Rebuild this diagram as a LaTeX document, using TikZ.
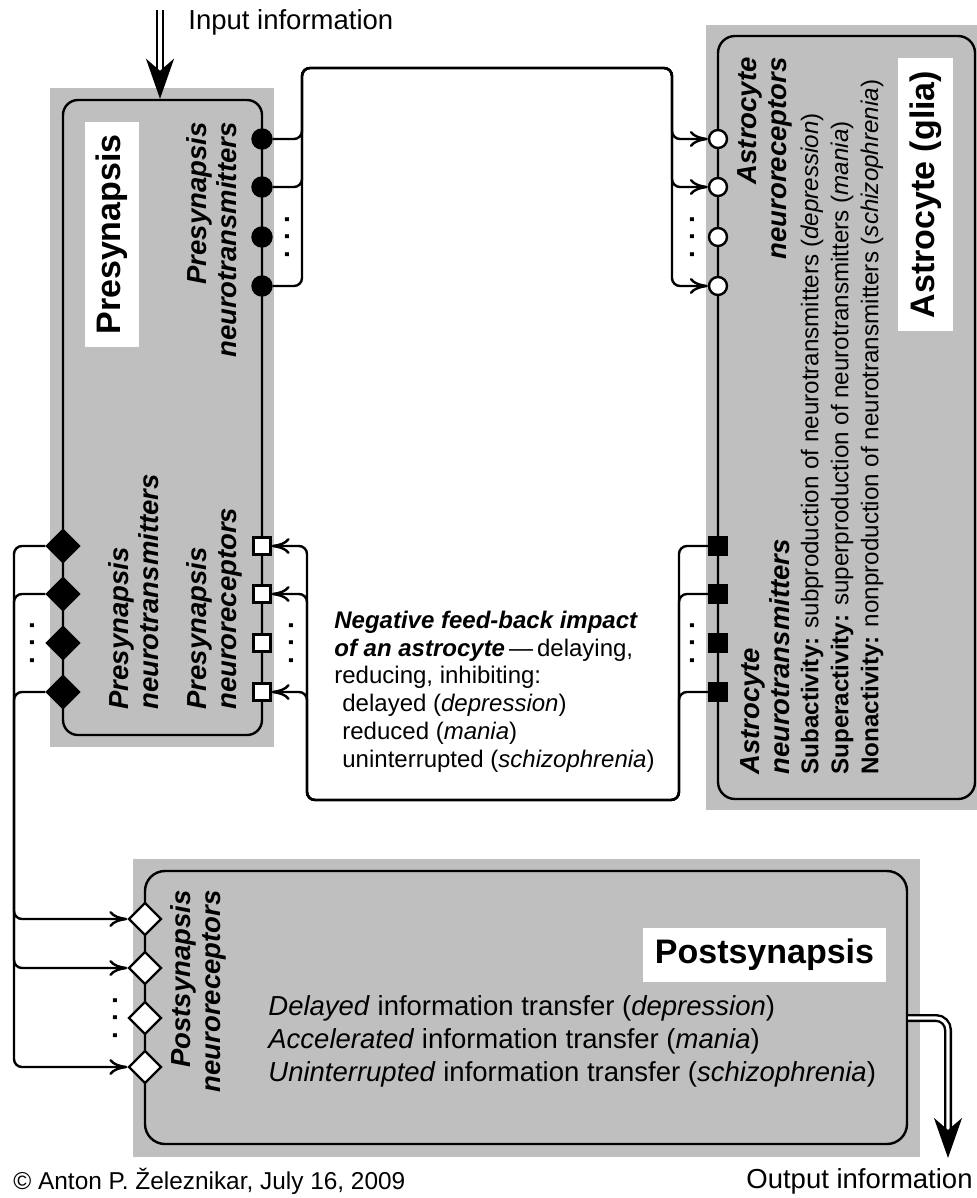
\documentclass[tikz,border=0pt]{standalone}
\usepackage{fontspec}
\setmainfont{Liberation Sans}
\usetikzlibrary{arrows.meta,shapes.geometric,positioning,calc}
\definecolor{cellgray}{RGB}{191,191,191}
\newcommand{\fnorm}{\fontsize{13.75pt}{15pt}\selectfont}
\newcommand{\fpost}{\fontsize{13.75pt}{16.5pt}\selectfont}
\newcommand{\fsmall}{\fontsize{12pt}{13.9pt}\selectfont}
\newcommand{\flist}{\fontsize{12.1pt}{15pt}\selectfont}
\newcommand{\ftitle}{\fontsize{17pt}{20pt}\selectfont\bfseries}
\tikzset{
  cell/.style={draw, line width=1.2pt, fill=cellgray, inner sep=0pt},
  title/.style={fill=white, inner sep=0pt, font=\ftitle},
  port/.style={draw, line width=1.2pt, inner sep=0pt},
  bdot/.style={port, circle, fill=black, minimum size=9.5pt},
  wdot/.style={port, circle, fill=white, minimum size=9pt},
  bsq/.style={port, rectangle, fill=black, minimum size=9pt},
  wsq/.style={port, rectangle, fill=white, minimum size=8.5pt},
  bdia/.style={port, diamond, fill=black, minimum size=16.5pt},
  wdia/.style={port, diamond, fill=white, minimum size=16.5pt},
  side/.style={rotate=90, inner sep=0pt, font=\fnorm\bfseries\itshape},
  vdots/.style={rotate=90, inner sep=0pt, font=\fnorm\bfseries},
  link/.style={line width=1.2pt, rounded corners=4pt,
    -{Computer Modern Rightarrow[length=9pt, width=8pt]}},
  dbl/.style={line width=1.2pt, double, double distance=1.6pt, rounded corners=6pt,
    -{Stealth[length=20pt, width=14pt, inset=6pt]}}
}

\begin{document}
\begin{tikzpicture}[x=0.5pt, y=-0.5pt]
\useasboundingbox (0,0) rectangle (977,1198);

% gray grounds
\fill[cellgray] (50,88) rectangle (274,747);
\fill[cellgray] (706,25) rectangle (977,810);
\fill[cellgray] (133,859) rectangle (920,1157);

% cells
\node[cell, rounded corners=7.5pt, minimum width=99.5pt, minimum height=317.5pt] (pre) at (162.5,417.5) {};
\node[cell, rounded corners=8.5pt, minimum width=128.5pt, minimum height=381.5pt] (astro) at (846.5,417.5) {};
\node[cell, rounded corners=10pt, minimum width=381pt, minimum height=136.5pt] (post) at (526,1007.5) {};

% titles
\node[title, rotate=90, minimum width=112.5pt, minimum height=27pt] (pretitle) at (112,234.5) {Presynapsis};
\node[title, rotate=90, minimum width=136.5pt, minimum height=27.5pt] (astrotitle) at (925.5,194.5) {Astrocyte (glia)};
\node[title, minimum width=121.5pt, minimum height=27pt] (posttitle) at (764.5,955) {Postsynapsis};

% side labels
\node[side, anchor=east, align=right] (prent) at (212,122) {Presynapsis\\neurotransmitters};
\node[side, anchor=west, align=left] (prelt) at (134,710) {Presynapsis\\neurotransmitters};
\node[side, anchor=west, align=left] (prenr) at (214,710) {Presynapsis\\neuroreceptors};
\node[side, anchor=east, align=right] (astnr) at (765,57) {Astrocyte\\neuroreceptors};
\node[side, anchor=west, align=left] (astnt) at (765,775) {Astrocyte\\neurotransmitters};
\node[side, anchor=east, align=right] (postnr) at (198,890) {Postsynapsis\\neuroreceptors};
\node[rotate=90, anchor=west, align=left, inner sep=0pt, font=\flist] (acts) at (842,775)
  {\textbf{Subactivity:} subproduction of neurotransmitters (\textit{depression})\\
   \textbf{Superactivity:} superproduction of neurotransmitters (\textit{mania})\\
   \textbf{Nonactivity:} nonproduction of neurotransmitters (\textit{schizophrenia})};

\node[anchor=west, align=left, inner sep=0pt, font=\fpost] (posttxt) at (268,1041)
  {\textit{Delayed} information transfer (\textit{depression})\\
   \textit{Accelerated} information transfer (\textit{mania})\\
   \textit{Uninterrupted} information transfer (\textit{schizophrenia})};

\node[anchor=west, align=left, inner sep=0pt, font=\fsmall] (neg) at (334,691.5)
  {\textbf{\textit{Negative feed-back impact}}\\
   \textbf{\textit{of an astrocyte}}\,—\,delaying,\\
   reducing, inhibiting:\\
   \hspace*{4pt}delayed (\textit{depression})\\
   \hspace*{4pt}reduced (\textit{mania})\\
   \hspace*{4pt}uninterrupted (\textit{schizophrenia})};

% ports
\foreach \i/\y in {1/139,2/187,3/237,4/286} {
  \node[bdot] (pd\i) at (262,\y) {};
  \node[wdot] (ac\i) at (718,\y) {};
}
\foreach \i/\y in {1/546,2/594,3/643,4/692} {
  \node[wsq] (ps\i) at (262,\y) {};
  \node[bsq] (as\i) at (718,\y) {};
  \node[bdia] (pn\i) at (63,\y) {};
}
\foreach \i/\y in {1/919,2/968,3/1018,4/1067}
  \node[wdia] (po\i) at (145,\y) {};

\node[vdots] (dots1) at (287,237) {. . .};
\node[vdots] (dots2) at (692,237) {. . .};
\node[vdots] (dots3) at (291,643) {. . .};
\node[vdots] (dots4) at (692,643) {. . .};
\node[vdots] (dots5) at (32,643) {. . .};
\node[vdots] (dots6) at (115,1018) {. . .};

% buses
\coordinate (b1) at (302,68);
\coordinate (b2) at (672,68);
\coordinate (b3) at (679,800);
\coordinate (b4) at (307,800);
\coordinate (b5) at (14,800);
\foreach \i in {1,2,4} {
  \draw[link] (pd\i) -| (b1) -- (b2) |- (ac\i);
  \draw[link] (as\i) -| (b3) -- (b4) |- (ps\i);
  \draw[link] (pn\i) -| (b5) |- (po\i);
}

% input and output
\coordinate (inp) at (160,10);
\coordinate (outp) at (948,1158);
\draw[dbl] (inp) -- (inp |- pre.north);
\draw[dbl] (post.east |- po3) -| (outp);

\node[anchor=west, inner sep=0pt, font=\fnorm] (inlbl) at (188,22) {Input information};
\node[anchor=east, inner sep=0pt, font=\fnorm] (outlbl) at (973,1181) {Output information};
\node[anchor=west, inner sep=0pt, font=\fontsize{12.2pt}{14pt}\selectfont] (credit) at (13,1181) {© Anton P. Železnikar, July 16, 2009};
\end{tikzpicture}
\end{document}
